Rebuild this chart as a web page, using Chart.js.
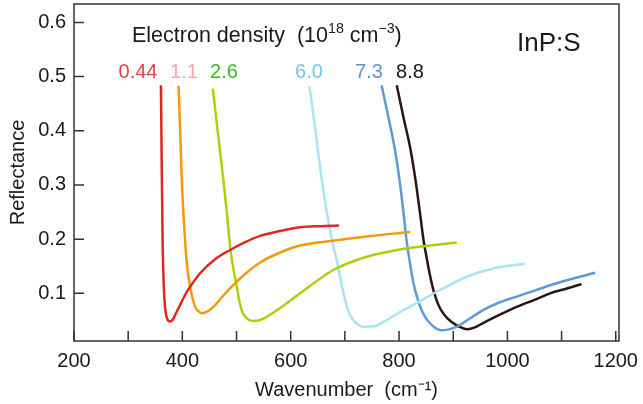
<!DOCTYPE html>
<html>
<head>
<meta charset="utf-8">
<script src="https://cdn.jsdelivr.net/npm/chart.js@4.4.0/dist/chart.umd.min.js"></script>
<style>
  html, body { margin: 0; padding: 0; background: #fff; }
  #wrap { width: 643px; height: 404px; }
</style>
</head>
<body>
<div id="wrap"><canvas id="reflChart" width="643" height="404"></canvas></div>
<script>
// electron density labels (10^18 cm^-3)
const densities = ['0.44', '1.1', '2.6', '6.0', '7.3', '8.8'];
const lineColors = ['#dd2a1f', '#f39a0b', '#a9d20c', '#abe3ef', '#5b9bd5', '#2a1515'];
const labelColors = ['#e8403a', '#f6a6ac', '#3db81a', '#72c6ea', '#5b95d0', '#151515'];

// reflectance curves, wavenumber (cm^-1) vs reflectance
const wn044 = [360.5, 362, 363.7, 365.5, 367, 369, 372, 377, 382, 386.7, 395.9, 404.5, 414.4, 432.8, 460.5, 488.2, 515, 543.5, 580, 617.3, 655, 689.3];
const r044  = [0.484, 0.33, 0.186, 0.12, 0.088, 0.066, 0.053, 0.048, 0.051, 0.06, 0.0784, 0.096, 0.112, 0.137, 0.163, 0.18, 0.194, 0.206, 0.215, 0.222, 0.224, 0.225];

const wn11 = [393, 396, 399, 403, 408.3, 414.4, 423.6, 430, 436, 447.6, 460.5, 473.4, 493.7, 515.9, 543.5, 580.4, 617.3, 678.2, 746.5, 820.3];
const r11  = [0.483, 0.40, 0.309, 0.23, 0.155, 0.112, 0.075, 0.067, 0.063, 0.0673, 0.0784, 0.0932, 0.1153, 0.1356, 0.1568, 0.1753, 0.1882, 0.197, 0.2057, 0.213];

const wn26 = [456.3, 466.1, 475.8, 482.7, 488.2, 494.6, 500.6, 504.8, 509.4, 515.9, 523.2, 531.2, 543.5, 555.9, 585.9, 617.3, 678.8, 740.4, 801.8, 856.9, 906.5];
const r26  = [0.478, 0.392, 0.309, 0.244, 0.186, 0.143, 0.112, 0.0876, 0.069, 0.0572, 0.0507, 0.0489, 0.0507, 0.0568, 0.0766, 0.1, 0.143, 0.1675, 0.181, 0.1882, 0.194];

const wn60 = [634.5, 643.2, 652.4, 661.6, 669.9, 678.2, 685, 691.1, 697.2, 703.1, 709.6, 718.8, 734.1, 750.2, 777.3, 801.8, 832.6, 875.6, 924.9, 977.1, 1032.1];
const r60  = [0.4825, 0.4197, 0.3459, 0.2814, 0.2315, 0.1891, 0.1614, 0.13, 0.1006, 0.0784, 0.06, 0.047, 0.0384, 0.0387, 0.0507, 0.0655, 0.0821, 0.1061, 0.1306, 0.1467, 0.1546];

const wn73 = [767.7, 781.5, 792.6, 800.9, 808.3, 813.8, 820.3, 826.8, 833.2, 841.5, 851.7, 864.6, 877.5, 890, 906, 930, 955, 985, 1017, 1050, 1079, 1120, 1162];
const r73  = [0.484, 0.42, 0.364, 0.309, 0.248, 0.198, 0.155, 0.118, 0.093, 0.069, 0.051, 0.038, 0.032, 0.033, 0.038, 0.053, 0.069, 0.083, 0.094, 0.105, 0.115, 0.127, 0.138];

const wn88 = [795.8, 809.2, 820.3, 830.4, 838.7, 845.2, 850.7, 857.2, 863.7, 872.9, 883, 895.9, 912.5, 925.5, 940, 955, 985, 1017, 1050, 1079, 1110, 1137];
const r88  = [0.484, 0.42, 0.37, 0.309, 0.248, 0.198, 0.167, 0.133, 0.105, 0.078, 0.0609, 0.048, 0.0378, 0.0336, 0.037, 0.045, 0.06, 0.075, 0.088, 0.1, 0.109, 0.117];

const xTicks = [200, 300, 400, 500, 600, 700, 800, 900, 1000, 1100, 1200];
const yTicks = [0.1, 0.2, 0.3, 0.4, 0.5, 0.6];

const curves = [[wn044, r044], [wn11, r11], [wn26, r26], [wn60, r60], [wn73, r73], [wn88, r88]];

const FONT = '"Liberation Sans", Arial, sans-serif';

function drawRich(ctx, parts, x, base, size) {
  let cx = x;
  parts.forEach(p => {
    const s = p.sup ? size * 0.66 : size;
    ctx.font = s + 'px ' + FONT;
    ctx.fillText(p.t, cx, p.sup ? base - size * 0.42 : base);
    cx += ctx.measureText(p.t).width;
  });
}

const decor = {
  id: 'decor',
  afterDraw(chart) {
    const { ctx, chartArea: a, scales: { x, y } } = chart;
    ctx.save();
    ctx.strokeStyle = '#333';
    ctx.lineWidth = 1.5;
    ctx.strokeRect(a.left, a.top, a.right - a.left, a.bottom - a.top);
    ctx.beginPath();
    x.ticks.forEach(t => {
      const px = x.getPixelForValue(t.value);
      ctx.moveTo(px, a.bottom);
      ctx.lineTo(px, a.bottom - 10);
    });
    y.ticks.forEach(t => {
      const py = y.getPixelForValue(t.value);
      ctx.moveTo(a.left, py);
      ctx.lineTo(a.left + 10, py);
    });
    ctx.stroke();

    ctx.textBaseline = 'alphabetic';
    ctx.textAlign = 'left';
    ctx.fillStyle = '#1a1a1a';
    drawRich(ctx, [
      { t: 'Electron density  (10' }, { t: '18', sup: true }, { t: ' cm' }, { t: '\u22123', sup: true }, { t: ')' }
    ], 132, 42, 21.5);

    // density labels above each curve
    const centers = [138, 184, 224, 309, 369, 410];
    ctx.font = '20px ' + FONT;
    ctx.textAlign = 'center';
    densities.forEach((d, i) => {
      ctx.fillStyle = labelColors[i];
      ctx.fillText(d, centers[i], 78);
    });

    ctx.textAlign = 'left';
    ctx.fillStyle = '#1a1a1a';
    ctx.font = '26px ' + FONT;
    ctx.fillText('InP:S', 517, 51);
    ctx.restore();
  }
};

new Chart(document.getElementById('reflChart'), {
  type: 'scatter',
  data: {
    datasets: curves.map((c, i) => ({
      label: densities[i],
      data: c[0].map((v, j) => ({ x: v, y: c[1][j] })),
      showLine: true,
      borderColor: lineColors[i],
      borderWidth: 2.5,
      pointRadius: 0,
      cubicInterpolationMode: 'monotone',
      fill: false
    }))
  },
  options: {
    responsive: false,
    animation: false,
    layout: { padding: { left: 0, top: 4, right: 24, bottom: 0 } },
    plugins: { legend: { display: false }, tooltip: { enabled: false } },
    scales: {
      x: {
        type: 'linear',
        min: 200,
        max: 1206,
        grid: { display: false, drawTicks: false },
        border: { display: false },
        afterBuildTicks: s => { s.ticks = xTicks.map(v => ({ value: v })); },
        afterFit: s => { s.height = 63; s.paddingLeft = 0; s.paddingRight = 0; },
        ticks: {
          padding: 8,
          color: '#1a1a1a',
          font: { size: 20, family: FONT },
          maxRotation: 0,
          autoSkip: false,
          callback: v => (v % 200 === 0 ? v : '')
        },
        title: {
          display: true,
          text: 'Wavenumber  (cm\u207B\u00B9)',
          color: '#1a1a1a',
          font: { size: 20, family: FONT },
          padding: { top: 2, bottom: 2 }
        }
      },
      y: {
        min: 0.012,
        max: 0.634,
        grid: { display: false, drawTicks: false },
        border: { display: false },
        afterBuildTicks: s => { s.ticks = yTicks.map(v => ({ value: v })); },
        afterFit: s => { s.width = 74; s.paddingTop = 0; s.paddingBottom = 0; },
        ticks: {
          padding: 8,
          color: '#1a1a1a',
          font: { size: 20, family: FONT },
          callback: v => v.toFixed(1)
        },
        title: {
          display: true,
          text: 'Reflectance',
          color: '#1a1a1a',
          font: { size: 20, family: FONT },
          padding: { top: 6, bottom: 0 }
        }
      }
    }
  },
  plugins: [decor]
});
</script>
</body>
</html>
